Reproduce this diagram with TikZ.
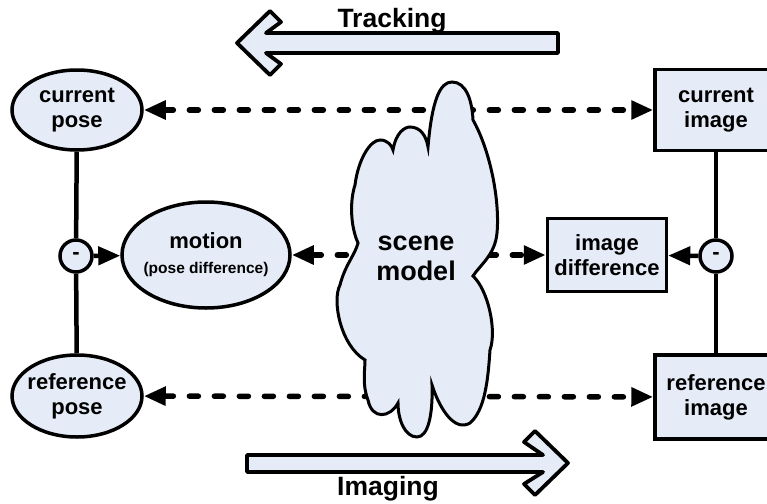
\documentclass[tikz,border=0pt]{standalone}
\usepackage{fontspec}
\setmainfont{Liberation Sans}
\usetikzlibrary{arrows.meta,shapes.geometric}
\definecolor{paleblue}{RGB}{230,236,247}

\begin{document}
\begin{tikzpicture}[x=1pt,y=-1pt,
  every node/.style={font=\fontsize{22}{25}\selectfont\bfseries, align=center},
  oval/.style={ellipse, draw, line width=3.5pt, fill=paleblue, inner sep=-10pt},
  box/.style={rectangle, draw, line width=3.5pt, fill=paleblue, inner sep=0pt},
  minus/.style={circle, draw, line width=3.5pt, fill=paleblue, minimum size=32pt, inner sep=0pt},
  dashline/.style={{Triangle[length=22pt,width=18pt]}-{Triangle[length=22pt,width=18pt]}, line width=5.5pt, line cap=round, dash pattern=on 9pt off 16pt},
  solidline/.style={line width=4.5pt},
  bigarrow/.style={draw, line width=3.8pt, line join=round, fill=paleblue},
  title/.style={font=\fontsize{26.5}{30}\selectfont\bfseries}]
\clip (0,0) rectangle (767,503);

% poses on the left
\node[oval, minimum width=130pt, minimum height=80pt] (cpose) at (77,110) {current\\pose};
\node[oval, minimum width=130pt, minimum height=82pt] (rpose) at (77,396) {reference\\pose};
\node[minus] (lminus) at (76,256) {-};
\node[oval, minimum width=168pt, minimum height=106pt] (motion) at (206,255)
  {motion\\{\fontsize{15.5}{18}\selectfont(pose difference)}};

% images on the right
\node[box, minimum width=122pt, minimum height=81pt] (cimg) at (716,110) {current\\image};
\node[box, minimum width=122pt, minimum height=84pt] (rimg) at (716,397) {reference\\image};
\node[minus] (rminus) at (716,256) {-};
\node[box, minimum width=119pt, minimum height=73pt] (imgdiff) at (607,255) {image\\difference};

\draw[solidline] (cpose) -- (lminus);
\draw[solidline] (lminus) -- (rpose);
\draw[solidline] (cimg) -- (rminus);
\draw[solidline] (rminus) -- (rimg);
\draw[solidline, -{Triangle[length=22pt,width=18pt]}] (lminus) -- (motion);
\draw[solidline, -{Triangle[length=22pt,width=18pt]}] (rminus) -- (imgdiff);

\foreach \a/\b in {cpose/cimg, rpose/rimg, motion/imgdiff}
    \draw[dashline] (\a) -- (\b);

% scene model cloud
\draw[line width=3pt, fill=paleblue] (428,147) .. controls (432,100) and (440,82) .. (452,82)
  .. controls (466,82) and (472,100) .. (473,120)
  .. controls (490,150) and (500,200) .. (497,233)
  .. controls (495,255) and (480,265) .. (473,276)
  .. controls (488,290) and (497,330) .. (490,350)
  .. controls (488,380) and (485,410) .. (470,423)
  .. controls (455,432) and (440,410) .. (432,385)
  .. controls (433,415) and (428,437) .. (417,437)
  .. controls (405,437) and (398,420) .. (398,403)
  .. controls (390,418) and (372,420) .. (368,400)
  .. controls (362,385) and (365,370) .. (365,360)
  .. controls (340,345) and (332,300) .. (340,285)
  .. controls (345,265) and (355,255) .. (358,243)
  .. controls (350,225) and (350,200) .. (355,185)
  .. controls (358,160) and (370,140) .. (380,140)
  .. controls (388,140) and (392,146) .. (393,150)
  .. controls (396,132) and (405,127) .. (410,127)
  .. controls (420,127) and (426,135) .. (428,147) -- cycle;
\node[font=\fontsize{27}{30}\selectfont\bfseries] (scene) at (416,258) {scene\\model};

% big direction arrows
\draw[bigarrow] (237,43) -- (270,11) -- (281,22) -- (266,33) -- (558,33) -- (558,53)
  -- (266,53) -- (281,64) -- (270,75) -- cycle;
\node[title] (tracking) at (392,21) {Tracking};
\draw[bigarrow] (568,463) -- (535,431) -- (524,442) -- (543,455) -- (247,455) -- (247,472)
  -- (543,472) -- (524,484) -- (535,495) -- cycle;
\node[title] (imaging) at (388,489) {Imaging};
\end{tikzpicture}
\end{document}
